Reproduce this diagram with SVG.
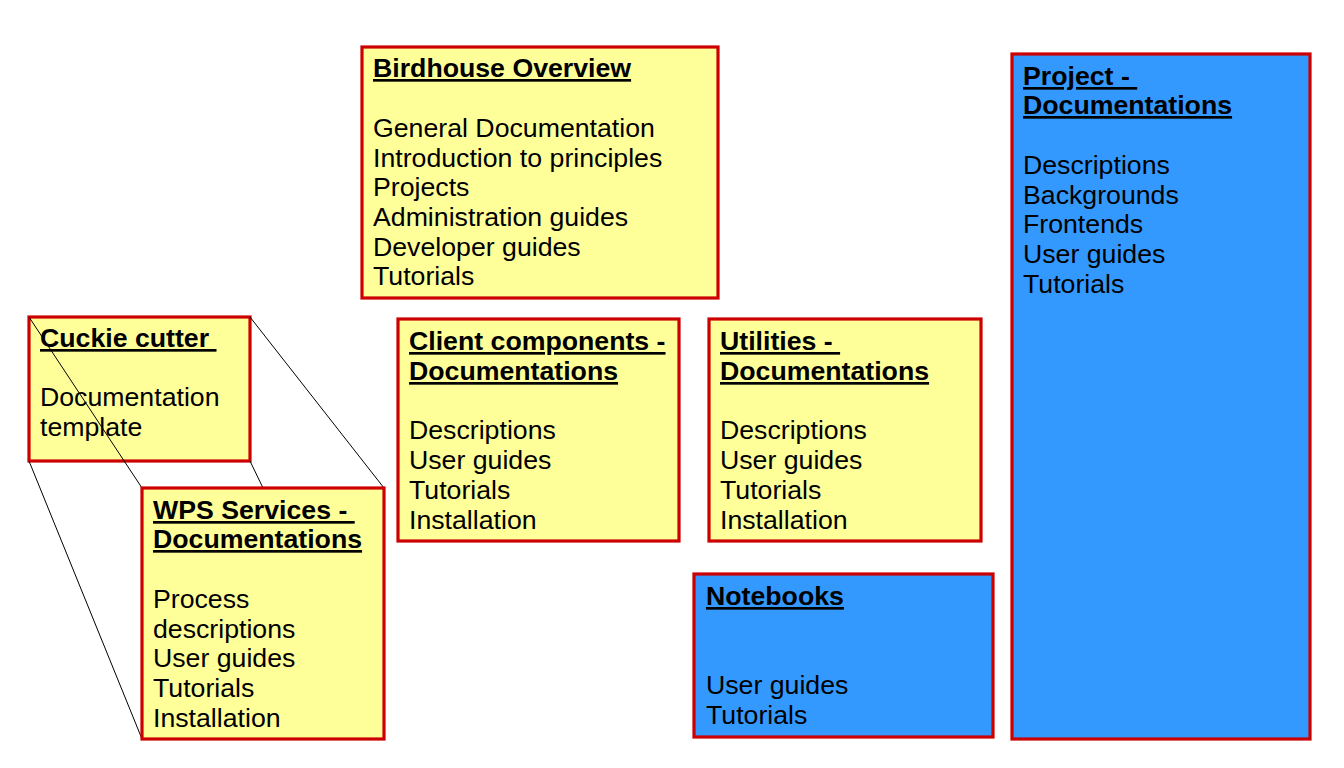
<svg xmlns="http://www.w3.org/2000/svg" width="1344" height="768" viewBox="0 0 1344 768">
<style>
.box{stroke:#CC0000;stroke-width:3.2}
.y{fill:#FFFF99}
.b{fill:#3399FF}
text{font-family:"Liberation Sans",Arial,sans-serif;font-size:26.7px;fill:#000;white-space:pre}
.t{font-weight:bold;text-decoration:underline}
.ln{stroke:#000;stroke-width:1;fill:none}
</style>
<rect width="1344" height="768" fill="#fff"/>
<g id="birdhouse">
<rect class="box y" x="362" y="47" width="356" height="251"/>
<text x="373" y="77" class="t">Birdhouse Overview</text>
<text x="373" y="137">General Documentation</text>
<text x="373" y="167">Introduction to principles</text>
<text x="373" y="196">Projects</text>
<text x="373" y="226">Administration guides</text>
<text x="373" y="256">Developer guides</text>
<text x="373" y="285">Tutorials</text>
</g>
<g id="project">
<rect class="box b" x="1012" y="54" width="298" height="685"/>
<text x="1023" y="85" class="t" xml:space="preserve">Project - </text>
<text x="1023" y="114" class="t">Documentations</text>
<text x="1023" y="174">Descriptions</text>
<text x="1023" y="204">Backgrounds</text>
<text x="1023" y="233">Frontends</text>
<text x="1023" y="263">User guides</text>
<text x="1023" y="293">Tutorials</text>
</g>
<g id="cookiecutter">
<rect class="box y" x="29" y="317" width="221" height="144"/>
<text x="40" y="347" class="t" xml:space="preserve">Cuckie cutter </text>
<text x="40" y="406">Documentation</text>
<text x="40" y="436">template</text>
</g>
<g id="connectors">
<line class="ln" x1="29" y1="317" x2="142" y2="488"/>
<line class="ln" x1="250" y1="317" x2="384" y2="488"/>
<line class="ln" x1="29" y1="461" x2="142" y2="739"/>
<line class="ln" x1="250" y1="461" x2="384" y2="739"/>
</g>
<g id="wps">
<rect class="box y" x="142" y="488" width="242" height="251"/>
<text x="153" y="519" class="t" xml:space="preserve">WPS Services - </text>
<text x="153" y="548" class="t">Documentations</text>
<text x="153" y="608">Process</text>
<text x="153" y="638">descriptions</text>
<text x="153" y="667">User guides</text>
<text x="153" y="697">Tutorials</text>
<text x="153" y="727">Installation</text>
</g>
<g id="client">
<rect class="box y" x="398" y="319" width="281" height="222"/>
<text x="409" y="350" class="t">Client components -</text>
<text x="409" y="380" class="t">Documentations</text>
<text x="409" y="439">Descriptions</text>
<text x="409" y="469">User guides</text>
<text x="409" y="499">Tutorials</text>
<text x="409" y="529">Installation</text>
</g>
<g id="utilities">
<rect class="box y" x="709" y="319" width="272" height="222"/>
<text x="720" y="350" class="t" xml:space="preserve">Utilities - </text>
<text x="720" y="380" class="t">Documentations</text>
<text x="720" y="439">Descriptions</text>
<text x="720" y="469">User guides</text>
<text x="720" y="499">Tutorials</text>
<text x="720" y="529">Installation</text>
</g>
<g id="notebooks">
<rect class="box b" x="694" y="574" width="299" height="163"/>
<text x="706" y="605" class="t">Notebooks</text>
<text x="706" y="694">User guides</text>
<text x="706" y="724">Tutorials</text>
</g>
</svg>
